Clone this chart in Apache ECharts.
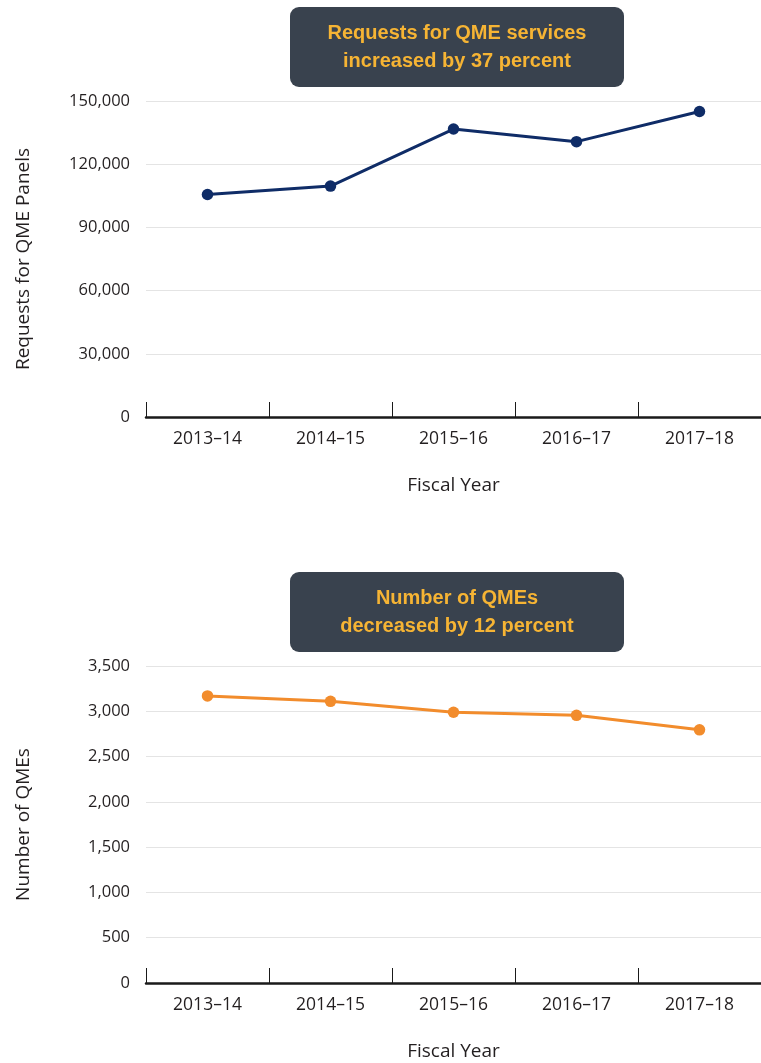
<!DOCTYPE html>
<html>
<head>
<meta charset="utf-8">
<script src="https://cdn.jsdelivr.net/npm/echarts@6/dist/echarts.min.js"></script>
<style>
html,body{margin:0;padding:0;background:#fff;}
#chart{width:761px;height:1063px;}
</style>
</head>
<body>
<div id="chart"></div>
<script>
const categories = ['2013–14', '2014–15', '2015–16', '2016–17', '2017–18'];
const requests = [105600, 109600, 136700, 130700, 145000];
const qmes = [3170, 3110, 2990, 2955, 2795];
const topTicks = { min: 0, max: 150000, interval: 30000 };
const bottomTicks = { min: 0, max: 3500, interval: 500 };
const topNote = ['Requests for QME services', 'increased by 37 percent'];
const bottomNote = ['Number of QMEs', 'decreased by 12 percent'];
const topYName = 'Requests for QME Panels';
const bottomYName = 'Number of QMEs';
const xName = 'Fiscal Year';

const FONT = '"Open Sans", "Noto Sans", sans-serif';
const TXT = '#231f20';

function xAxis(gridIndex) {
  return {
    type: 'category', gridIndex, data: categories, boundaryGap: true,
    name: xName, nameLocation: 'middle', nameGap: 59,
    nameTextStyle: { fontFamily: FONT, fontSize: 19, color: TXT },
    axisLine: { show: true, lineStyle: { color: '#1a1a1a', width: 2.5 } },
    axisTick: { show: true, inside: true, length: 15, interval: 0, lineStyle: { color: '#1a1a1a', width: 1 } },
    axisLabel: { fontFamily: FONT, fontSize: 17.5, color: TXT, margin: 13, interval: 0 }
  };
}
function yAxis(gridIndex, t, name) {
  return {
    type: 'value', gridIndex, min: t.min, max: t.max, interval: t.interval,
    name, nameLocation: 'middle', nameGap: 113,
    nameTextStyle: { fontFamily: FONT, fontSize: 19, color: TXT },
    axisLine: { show: false }, axisTick: { show: false },
    axisLabel: { fontFamily: FONT, fontSize: 16.5, color: TXT, margin: 16,
      formatter: v => v.toLocaleString('en-US') },
    splitLine: { lineStyle: { color: '#e4e4e4', width: 1.2 } }
  };
}
function note(lines, top) {
  return {
    type: 'group', left: 290, top: top,
    children: [
      { type: 'rect', shape: { x: 0, y: 0, width: 334, height: 80, r: 9 },
        style: { fill: '#39424e' } },
      { type: 'text', x: 167, y: 26, style: { text: lines[0], fill: '#f6b434',
        font: 'bold 20px "Liberation Sans Narrow", sans-serif', align: 'center', verticalAlign: 'middle' } },
      { type: 'text', x: 167, y: 54, style: { text: lines[1], fill: '#f6b434',
        font: 'bold 20px "Liberation Sans Narrow", sans-serif', align: 'center', verticalAlign: 'middle' } }
    ]
  };
}

const chart = echarts.init(document.getElementById('chart'), null, { renderer: 'canvas' });
chart.setOption({
  animation: false,
  backgroundColor: '#fff',
  grid: [
    { left: 146, top: 101, width: 623, height: 316 },
    { left: 146, top: 666, width: 623, height: 317 }
  ],
  xAxis: [xAxis(0), xAxis(1)],
  yAxis: [yAxis(0, topTicks, topYName), yAxis(1, bottomTicks, bottomYName)],
  series: [
    { type: 'line', xAxisIndex: 0, yAxisIndex: 0, data: requests,
      symbol: 'circle', symbolSize: 11.5, z: 5,
      lineStyle: { color: '#0f2c67', width: 3 }, itemStyle: { color: '#0f2c67' } },
    { type: 'line', xAxisIndex: 1, yAxisIndex: 1, data: qmes,
      symbol: 'circle', symbolSize: 11.5, z: 5,
      lineStyle: { color: '#f28c2c', width: 3 }, itemStyle: { color: '#f28c2c' } }
  ],
  graphic: [note(topNote, 7), note(bottomNote, 572)]
});
</script>
</body>
</html>
